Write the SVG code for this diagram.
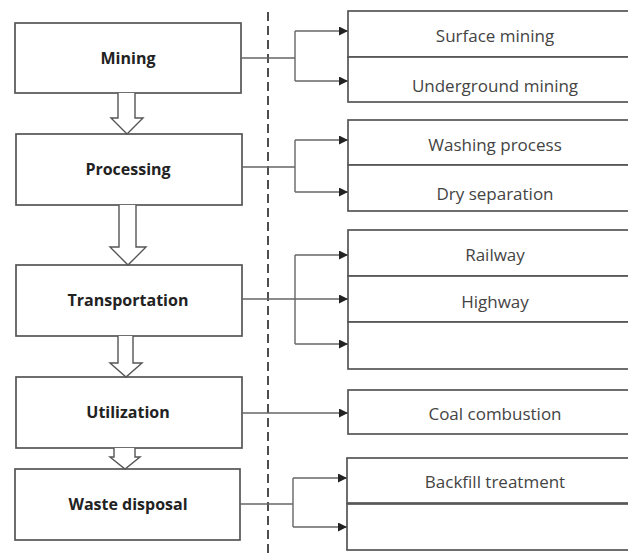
<svg xmlns="http://www.w3.org/2000/svg" width="628" height="553" viewBox="0 0 628 553">
<style>
.box{fill:#fff;stroke:#555;stroke-width:1.7}
.sub{fill:#fff;stroke:#555;stroke-width:1.7}
.bold{font-family:"Open Sans","Liberation Sans",sans-serif;font-weight:bold;font-size:16px;fill:#222;text-anchor:middle}
.lbl{font-family:"Open Sans","Liberation Sans",sans-serif;font-size:17px;fill:#444;text-anchor:middle}
.ln{fill:none;stroke:#666;stroke-width:1.4}
.blk{fill:#fff;stroke:#555;stroke-width:1.4}
</style>
<defs>
<marker id="ah" viewBox="0 0 10 10" refX="10" refY="5" markerWidth="10" markerHeight="9" markerUnits="userSpaceOnUse" orient="auto">
<path d="M0,0 L10,5 L0,10 z" fill="#222"/>
</marker>
</defs>
<line x1="268" y1="12" x2="268" y2="553" stroke="#222" stroke-width="1.6" stroke-dasharray="9,5"/>
<g id="mining"><rect class="box" x="15" y="23" width="226" height="70"/><text class="bold" x="128" y="64">Mining</text></g>
<g id="processing"><rect class="box" x="16" y="134" width="226" height="71"/><text class="bold" x="128" y="175">Processing</text></g>
<g id="transportation"><rect class="box" x="16" y="265" width="226" height="71"/><text class="bold" x="128" y="306">Transportation</text></g>
<g id="utilization"><rect class="box" x="16" y="377" width="226" height="71"/><text class="bold" x="128" y="418">Utilization</text></g>
<g id="waste"><rect class="box" x="15" y="469" width="225" height="71"/><text class="bold" x="128" y="510">Waste disposal</text></g>
<g id="surface"><rect class="sub" x="348" y="11" width="300" height="46"/><text class="lbl" x="495" y="42">Surface mining</text></g>
<g id="underground"><rect class="sub" x="348" y="57" width="300" height="45"/><text class="lbl" x="495" y="92">Underground mining</text></g>
<g id="washing"><rect class="sub" x="348" y="120" width="300" height="45"/><text class="lbl" x="495" y="151">Washing process</text></g>
<g id="dry"><rect class="sub" x="348" y="165" width="300" height="46"/><text class="lbl" x="495" y="200">Dry separation</text></g>
<g id="railway"><rect class="sub" x="348" y="230" width="300" height="46"/><text class="lbl" x="495" y="261">Railway</text></g>
<g id="highway"><rect class="sub" x="348" y="276" width="300" height="46"/><text class="lbl" x="495" y="308">Highway</text></g>
<g id="blank1"><rect class="sub" x="348" y="322" width="300" height="47"/></g>
<g id="coal"><rect class="sub" x="348" y="390" width="300" height="44"/><text class="lbl" x="495" y="420">Coal combustion</text></g>
<g id="backfill"><rect class="sub" x="347" y="458" width="300" height="45"/><text class="lbl" x="495" y="488">Backfill treatment</text></g>
<g id="blank2"><rect class="sub" x="347" y="504" width="300" height="46"/></g>
<g id="connectors">
<path class="blk" d="M118,93 V118 H111 L127,134 L143,118 H135 V93"/>
<path class="blk" d="M119,205 V247 H110 L128,265 L146,247 H136 V205"/>
<path class="blk" d="M118,336 V363 H110 L126,377 L142,363 H133 V336"/>
<path class="blk" d="M114,448 V457 H110 L125,469 L140,457 H135 V448"/>
<path class="ln" d="M241,58 H295 M295,31 V81"/>
<path class="ln" d="M295,31 H348" marker-end="url(#ah)"/>
<path class="ln" d="M295,81 H348" marker-end="url(#ah)"/>
<path class="ln" d="M242,167 H295 M295,140 V192"/>
<path class="ln" d="M295,140 H348" marker-end="url(#ah)"/>
<path class="ln" d="M295,192 H348" marker-end="url(#ah)"/>
<path class="ln" d="M242,299 H295 M295,255 V344"/>
<path class="ln" d="M295,255 H348" marker-end="url(#ah)"/>
<path class="ln" d="M295,299 H348" marker-end="url(#ah)"/>
<path class="ln" d="M295,344 H348" marker-end="url(#ah)"/>
<path class="ln" d="M242,413 H296"/>
<path class="ln" d="M296,413 H348" stroke-width="1" marker-end="url(#ah)"/>
<path class="ln" d="M240,504 H293 M293,478 V527"/>
<path class="ln" d="M293,478 H347" marker-end="url(#ah)"/>
<path class="ln" d="M293,527 H347" marker-end="url(#ah)"/>
</g>
</svg>
